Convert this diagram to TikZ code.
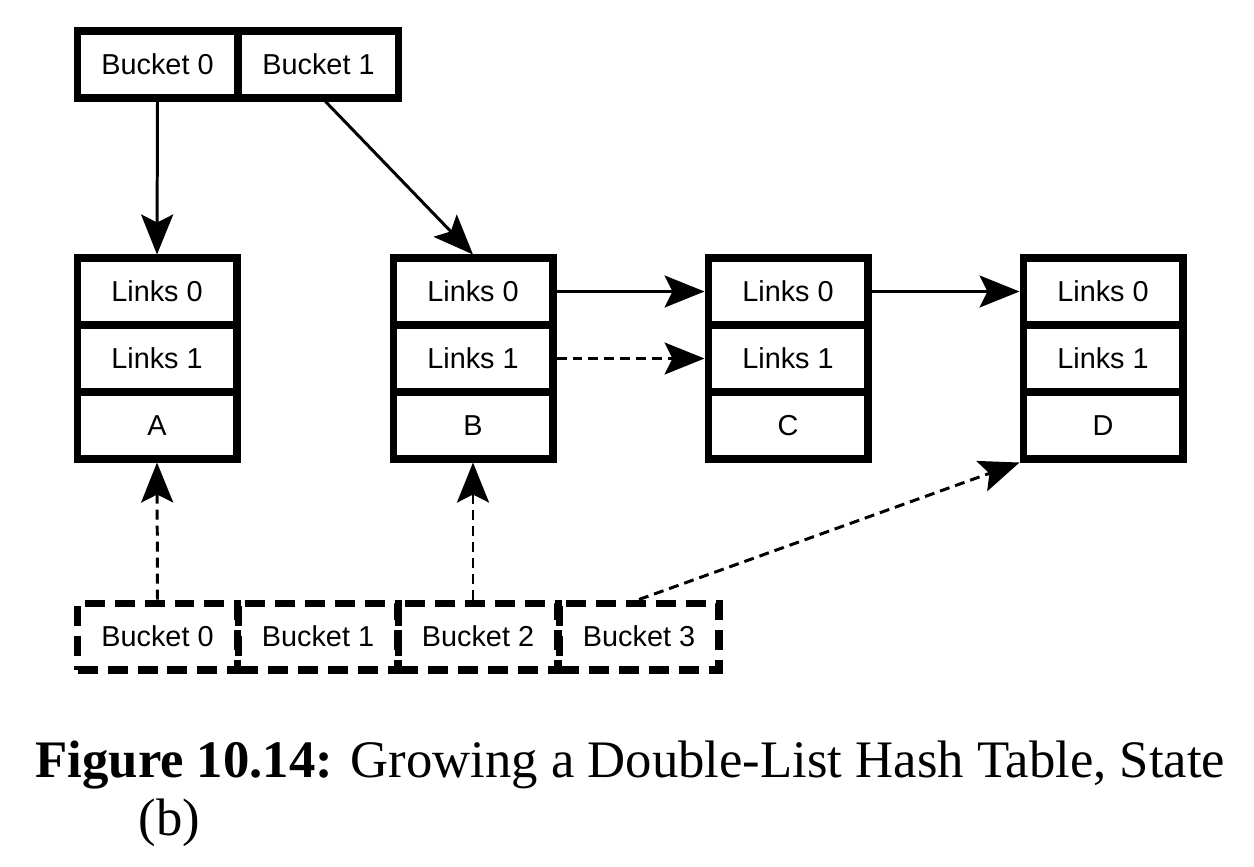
\documentclass[tikz,border=0pt]{standalone}
\usepackage{fontspec}
\setmainfont{Liberation Serif}
\setsansfont{Liberation Sans}
\usetikzlibrary{arrows.meta}
\begin{document}
\begin{tikzpicture}[x=0.02cm, y=-0.02cm, line width=1.7pt, >={Stealth[length=0.8cm, width=0.64cm, inset=0.16cm]},
cell/.style={rectangle,draw,line width=4pt,minimum width=3.2cm,minimum height=1.34cm,inner sep=0pt,font=\sffamily\fontsize{16.4}{18}\selectfont},
new cell/.style={cell,dash pattern=on 0.4cm off 0.2cm},
link/.style={->},
new link/.style={->,dash pattern=on 0.2cm off 0.12cm},
caption/.style={anchor=base west,inner sep=0pt,font=\fontsize{30}{34}\selectfont}]
\useasboundingbox (0,0) rectangle (1254,866);
\begin{scope}
% old bucket array
\node[cell] (b0) at (157.5,64.5) {Bucket 0};
\node[cell] (b1) at (318.5,64.5) {Bucket 1};
% elements
\node[cell] (A0) at (157,291.5) {Links 0};
\node[cell] (A1) at (157,358.5) {Links 1};
\node[cell] (A2) at (157,425.5) {A};
\node[cell] (B0) at (473,291.5) {Links 0};
\node[cell] (B1) at (473,358.5) {Links 1};
\node[cell] (B2) at (473,425.5) {B};
\node[cell] (C0) at (788,291.5) {Links 0};
\node[cell] (C1) at (788,358.5) {Links 1};
\node[cell] (C2) at (788,425.5) {C};
\node[cell] (D0) at (1103,291.5) {Links 0};
\node[cell] (D1) at (1103,358.5) {Links 1};
\node[cell] (D2) at (1103,425.5) {D};
% new bucket array
\node[new cell] (nb0) at (157.5,636.5) {Bucket 0};
\node[new cell] (nb1) at (318,636.5) {Bucket 1};
\node[new cell] (nb2) at (478,636.5) {Bucket 2};
\node[new cell] (nb3) at (639,636.5) {Bucket 3};
\end{scope}
\begin{scope}
\draw (b0.south) edge[link] (A0.north);
\draw ([xshift=0.14cm]b1.south) edge[link] (B0.north);
\draw (B0.east) edge[link] (C0.west);
\draw (C0.east) edge[link] (D0.west);
\draw (B1.east) edge[new link] (C1.west);
\draw (nb0.north) edge[new link] (A2.south);
\draw (B2.south |- nb2.north) edge[new link] (B2.south);
\draw (nb3.north) edge[new link] (D2.south west);
\end{scope}
% caption
\node[caption] (cap1) at (34,777) {\textbf{Figure 10.14:} Growing a Double-List Hash Table, State};
\node[caption] (cap2) at (137,835) {(b)};
\end{tikzpicture}
\end{document}
